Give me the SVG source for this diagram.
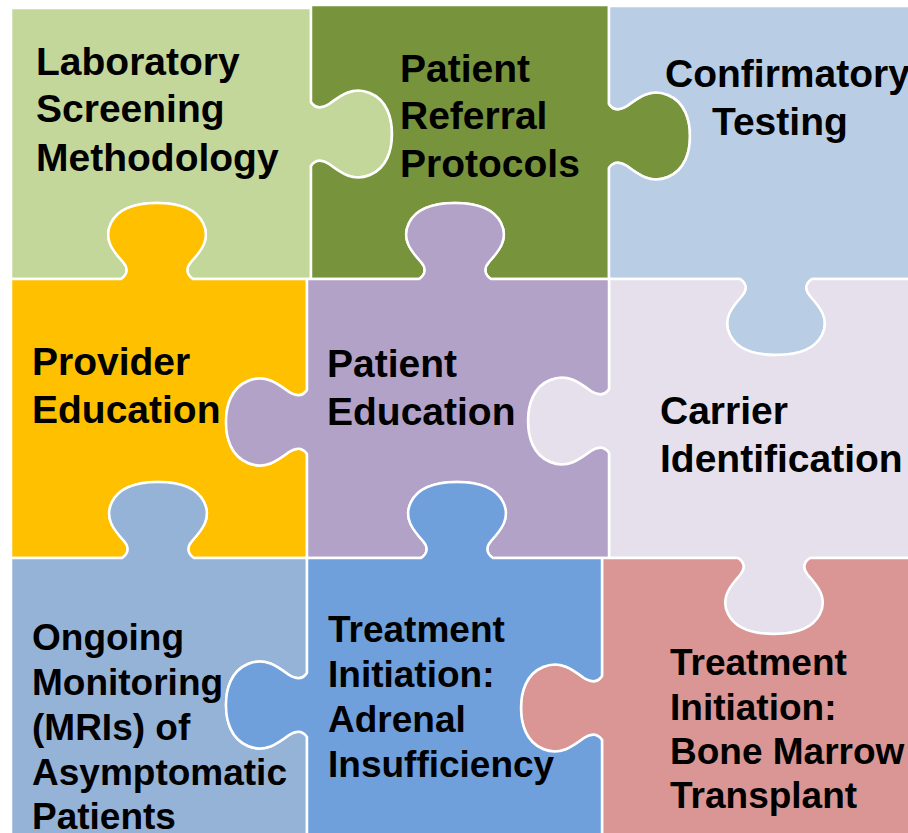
<svg xmlns="http://www.w3.org/2000/svg" width="908" height="833" viewBox="0 0 908 833">
  <style>
    .piece { stroke: #ffffff; stroke-width: 2.5; stroke-linejoin: round; }
    .label { font-family: "Liberation Sans", Arial, sans-serif; font-weight: bold; fill: #000000; }
    .big { font-size: 39px; }
    .small { font-size: 37px; }
  </style>
  <rect x="0" y="0" width="908" height="833" fill="#ffffff"/>

  <!-- Row 1 -->
  <g id="lab-screening">
    <path class="piece" fill="#C4D79B" d="M11,8 L311,8 L311,102 C315,108 321,109 329,104 C341,95 353,86 370,93 C387,100 392,118 392,134 C392,150 387,168 370,175 C353,182 341,173 329,164 C321,159 315,160 311,166 L311,279 L193,279 C187,275 185,269 191,262 C201,251 211,239 203,223 C195,207 175,203 157,203 C139,203 119,207 111,223 C103,239 113,251 123,262 C129,269 127,275 121,279 L11,279 Z"/>
    <text class="label big"><tspan x="36" y="75">Laboratory</tspan><tspan x="36" y="122">Screening</tspan><tspan x="36" y="171">Methodology</tspan></text>
  </g>

  <g id="referral-protocols">
    <path class="piece" fill="#77933C" d="M311,5 L609,5 L609,104 C613,110 619,111 627,106 C639,97 651,88 668,95 C685,102 690,120 690,136 C690,152 685,170 668,177 C651,184 639,175 627,166 C619,161 613,162 609,168 L609,279 L491,279 C485,275 483,269 489,262 C499,251 509,239 501,223 C493,207 473,203 455,203 C437,203 417,207 409,223 C401,239 411,251 421,262 C427,269 425,275 419,279 L311,279 L311,166 C315,160 321,159 329,164 C341,173 353,182 370,175 C387,168 392,150 392,134 C392,118 387,100 370,93 C353,86 341,95 329,104 C321,109 315,108 311,102 Z"/>
    <text class="label big"><tspan x="400" y="82">Patient</tspan><tspan x="400" y="129">Referral</tspan><tspan x="400" y="177">Protocols</tspan></text>
  </g>

  <g id="confirmatory-testing">
    <path class="piece" fill="#B9CDE5" d="M609,6 L915,6 L915,279 L812,279 C806,283 804,289 810,296 C820,307 830,319 822,335 C814,351 794,355 776,355 C758,355 738,351 730,335 C722,319 732,307 742,296 C748,289 746,283 740,279 L609,279 L609,168 C613,162 619,161 627,166 C639,175 651,184 668,177 C685,170 690,152 690,136 C690,120 685,102 668,95 C651,88 639,97 627,106 C619,111 613,110 609,104 Z"/>
    <text class="label big"><tspan x="665" y="87">Confirmatory</tspan><tspan x="712" y="135">Testing</tspan></text>
  </g>

  <!-- Row 2 -->
  <g id="provider-education">
    <path class="piece" fill="#FFC000" d="M11,279 L121,279 C127,275 129,269 123,262 C113,251 103,239 111,223 C119,207 139,203 157,203 C175,203 195,207 203,223 C211,239 201,251 191,262 C185,269 187,275 193,279 L307,279 L307,390 C303,396 297,397 289,392 C277,383 265,374 248,381 C231,388 226,406 226,422 C226,438 231,456 248,463 C265,470 277,461 289,452 C297,447 303,448 307,454 L307,558 L194,558 C188,554 186,548 192,541 C202,530 212,518 204,502 C196,486 176,482 158,482 C140,482 120,486 112,502 C104,518 114,530 124,541 C130,548 128,554 122,558 L11,558 Z"/>
    <text class="label big"><tspan x="32" y="375">Provider</tspan><tspan x="32" y="423">Education</tspan></text>
  </g>

  <g id="carrier-identification">
    <path class="piece" fill="#E6E0EC" d="M609,279 L740,279 C746,283 748,289 742,296 C732,307 722,319 730,335 C738,351 758,355 776,355 C794,355 814,351 822,335 C830,319 820,307 810,296 C804,289 806,283 812,279 L915,279 L915,558 L810,558 C804,562 802,568 808,575 C818,586 828,598 820,614 C812,630 792,634 774,634 C756,634 736,630 728,614 C720,598 730,586 740,575 C746,568 744,562 738,558 L609,558 L609,453 C605,447 599,446 591,451 C579,460 567,469 550,462 C533,455 528,437 528,421 C528,405 533,387 550,380 C567,373 579,382 591,391 C599,396 605,395 609,389 Z"/>
    <text class="label big"><tspan x="660" y="424">Carrier</tspan><tspan x="660" y="472">Identification</tspan></text>
  </g>

  <g id="patient-education">
    <path class="piece" fill="#B3A2C7" d="M307,279 L419,279 C425,275 427,269 421,262 C411,251 401,239 409,223 C417,207 437,203 455,203 C473,203 493,207 501,223 C509,239 499,251 489,262 C483,269 485,275 491,279 L609,279 L609,389 C605,395 599,396 591,391 C579,382 567,373 550,380 C533,387 528,405 528,421 C528,437 533,455 550,462 C567,469 579,460 591,451 C599,446 605,447 609,453 L609,558 L493,558 C487,554 485,548 491,541 C501,530 511,518 503,502 C495,486 475,482 457,482 C439,482 419,486 411,502 C403,518 413,530 423,541 C429,548 427,554 421,558 L307,558 L307,454 C303,448 297,447 289,452 C277,461 265,470 248,463 C231,456 226,438 226,422 C226,406 231,388 248,381 C265,374 277,383 289,392 C297,397 303,396 307,390 Z"/>
    <text class="label big"><tspan x="327" y="377">Patient</tspan><tspan x="327" y="425">Education</tspan></text>
  </g>

  <!-- Row 3 -->
  <g id="ongoing-monitoring">
    <path class="piece" fill="#95B3D7" d="M11,558 L122,558 C128,554 130,548 124,541 C114,530 104,518 112,502 C120,486 140,482 158,482 C176,482 196,486 204,502 C212,518 202,530 192,541 C186,548 188,554 194,558 L307,558 L307,673 C303,679 297,680 289,675 C277,666 265,657 248,664 C231,671 226,689 226,705 C226,721 231,739 248,746 C265,753 277,744 289,735 C297,730 303,731 307,737 L307,840 L11,840 Z"/>
    <text class="label small"><tspan x="32" y="650">Ongoing</tspan><tspan x="32" y="695">Monitoring</tspan><tspan x="32" y="740">(MRIs) of</tspan><tspan x="32" y="785">Asymptomatic</tspan><tspan x="32" y="829">Patients</tspan></text>
  </g>

  <g id="bone-marrow-transplant">
    <path class="piece" fill="#D99694" d="M602,558 L738,558 C744,562 746,568 740,575 C730,586 720,598 728,614 C736,630 756,634 774,634 C792,634 812,630 820,614 C828,598 818,586 808,575 C802,568 804,562 810,558 L915,558 L915,840 L602,840 L602,740 C598,734 592,733 584,738 C572,747 560,756 543,749 C526,742 521,724 521,708 C521,692 526,674 543,667 C560,660 572,669 584,678 C592,683 598,682 602,676 Z"/>
    <text class="label small"><tspan x="670" y="675">Treatment</tspan><tspan x="670" y="720">Initiation:</tspan><tspan x="670" y="764">Bone Marrow</tspan><tspan x="670" y="808">Transplant</tspan></text>
  </g>

  <g id="adrenal-insufficiency">
    <path class="piece" fill="#6FA0DB" d="M307,558 L421,558 C427,554 429,548 423,541 C413,530 403,518 411,502 C419,486 439,482 457,482 C475,482 495,486 503,502 C511,518 501,530 491,541 C485,548 487,554 493,558 L602,558 L602,676 C598,682 592,683 584,678 C572,669 560,660 543,667 C526,674 521,692 521,708 C521,724 526,742 543,749 C560,756 572,747 584,738 C592,733 598,734 602,740 L602,840 L307,840 L307,737 C303,731 297,730 289,735 C277,744 265,753 248,746 C231,739 226,721 226,705 C226,689 231,671 248,664 C265,657 277,666 289,675 C297,680 303,679 307,673 Z"/>
    <text class="label small"><tspan x="328" y="642">Treatment</tspan><tspan x="328" y="687">Initiation:</tspan><tspan x="328" y="732">Adrenal</tspan><tspan x="328" y="777">Insufficiency</tspan></text>
  </g>
</svg>
